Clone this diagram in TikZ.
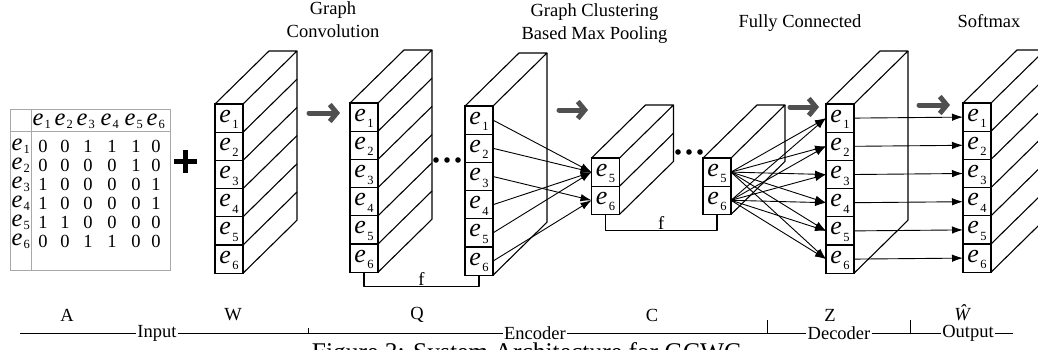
\documentclass[tikz,border=0pt]{standalone}
\usepackage{fontspec}
\setmainfont{Liberation Serif}
\usetikzlibrary{arrows.meta,calc}

\definecolor{flowgray}{HTML}{505050}
\definecolor{gridgray}{HTML}{A8A8A8}

% entity label inside a stack cell
\newcommand{\ev}[1]{{\fontsize{26}{26}\selectfont\itshape e}\hspace{1.5pt}\raisebox{-6.5pt}{\fontsize{12.5}{12.5}\selectfont #1}\hspace{4pt}}
% entity label of the adjacency matrix
\newcommand{\mv}[1]{{\fontsize{24.5}{24.5}\selectfont\itshape e}\hspace{1pt}\raisebox{-3pt}{\fontsize{12.5}{12.5}\selectfont #1}}

% column of entity cells: name, left x, top y, labels
\newcommand{\cellstack}[4]{%
  \foreach \lab [count=\i] in {#4}
    \node[cellbox] (#1-\i) at ({#2+14},{#3+14.1+28.2*(\i-1)}) {\ev{\lab}};
}
% top face, back edge and (optionally) side dividers of a column
\newcommand{\stackfaces}[3]{%
  \draw[face] (#1-1.north west) -- ++(54,-53) -- ($(#1-1.north east)+(54,-53)$) -- (#1-1.north east);
  \draw[face] ($(#1-1.north east)+(54,-53)$) -- ($(#1-#2.south east)+(54,-53)$) -- (#1-#2.south east);
  \ifnum#3=1
    \foreach \k in {2,...,#2} \draw[face] (#1-\k.north east) -- ++(54,-53);
  \fi
}

\begin{document}
\begin{tikzpicture}[x=1pt,y=-1pt,
  every node/.style={font=\fontsize{18.5}{23}\selectfont, inner sep=0pt},
  cellbox/.style={draw, line width=1.1pt, minimum width=28pt, minimum height=28.2pt,
    text height=12pt, text depth=4pt, inner sep=0pt, outer sep=0pt},
  mlabel/.style={anchor=base west, text height=11pt, text depth=3pt},
  face/.style={line width=1.1pt, line join=round},
  link/.style={line width=0.9pt, -{Latex[length=11pt,width=7.5pt]}},
  flow/.style={draw=flowgray, line width=5pt, line cap=round, line join=round,
    -{Straight Barb[length=7pt,width=17pt]}},
  grid/.style={draw=gridgray, line width=1pt},
  axislabel/.style={inner sep=1pt}]
\useasboundingbox (0,0) rectangle (1038,349);
\clip (0,0) rectangle (1038,349);

% ---------- adjacency matrix A ----------
\draw[grid] (10,109) rectangle (170,270);
\draw[grid] (10,131) -- (170,131);
\draw[grid] (31,109) -- (31,270);
\foreach \lab/\x in {1/32.5,2/54.5,3/76.5,4/100.5,5/124.5,6/146.5}
  \node[mlabel] (mh-\lab) at (\x,125) {\mv{\lab}};
\foreach \r/\y/\va/\vb/\vc/\vd/\ve/\vf in {
    1/152/0/0/1/1/1/0, 2/171/0/0/0/0/1/0, 3/190/1/0/0/0/0/1,
    4/209/1/0/0/0/0/1, 5/228/1/1/0/0/0/0, 6/247/0/0/1/1/0/0} {
  \node[mlabel] (mr-\r) at (11.5,\y-1.5) {\mv{\r}};
  \foreach \v/\x [count=\k] in {\va/43,\vb/65,\vc/88,\vd/112,\ve/136,\vf/156}
    \node[anchor=base] (m-\r-\k) at (\x,\y) {\v};
}

% plus sign
\draw[line width=5pt] (174,161.5) -- (197,161.5);
\draw[line width=5pt] (185.5,150) -- (185.5,173);

% ---------- columns ----------
\cellstack{W}{215}{104}{1,...,6}
\stackfaces{W}{6}{1}
\cellstack{Qa}{350}{103}{1,...,6}
\stackfaces{Qa}{6}{1}
\cellstack{Qb}{465}{106}{1,...,6}
\stackfaces{Qb}{6}{0}
\cellstack{Ca}{591.5}{158}{5,6}
\stackfaces{Ca}{2}{1}
\cellstack{Cb}{703}{158}{5,6}
\stackfaces{Cb}{2}{0}
\cellstack{Z}{826}{104}{1,...,6}
\stackfaces{Z}{6}{0}
\cellstack{S}{963}{103}{1,...,6}
\stackfaces{S}{6}{1}

% ellipsis dots
\foreach \x in {436,447,458} \fill (\x,160) circle (2.8pt);
\foreach \x in {678,689,700} \fill (\x,152) circle (2.8pt);

% shared filter brackets
\draw[face] (Qa-6.south) -- ++(0,14) -| (Qb-6.south) node[pos=0.25, above=0.5pt] (fq) {f};
\draw[face] (Ca-2.south) -- ++(0,16) -| (Cb-2.south) node[pos=0.25, above=0.5pt] (fc) {f};

% ---------- pooling, fully connected and output links ----------
\foreach \i in {1,2,4,5} \draw[link] (Qb-\i.east) -- (Ca-1.west);
\foreach \i in {3,6} \draw[link] (Qb-\i.east) -- (Ca-2.west);
\foreach \i in {1,2} \foreach \j in {1,...,6} \draw[link] (Cb-\i.east) -- (Z-\j.west);
\foreach \j in {1,...,6} \draw[link] (Z-\j.east) -- (S-\j.west);

% stage arrows
\coordinate (g1a) at (309,113); \coordinate (g1b) at (340,113);
\coordinate (g2a) at (559,110); \coordinate (g2b) at (588,110);
\coordinate (g3a) at (790,107); \coordinate (g3b) at (819,107);
\coordinate (g4a) at (919,105); \coordinate (g4b) at (950,105);
\draw[flow] (g1a) -- (g1b);
\draw[flow] (g2a) -- (g2b);
\draw[flow] (g3a) -- (g3b);
\draw[flow] (g4a) -- (g4b);

% ---------- stage titles ----------
\node[align=center] (t-conv) at (333,20) {Graph\\Convolution};
\node[align=center] (t-pool) at (594.5,24) {Graph Clustering\\Based Max Pooling};
\node[anchor=base] (t-fc) at (800,27) {Fully Connected};
\node[anchor=base] (t-sm) at (989,27) {Softmax};

% ---------- data names and stage axis ----------
\node (lA) at (67,315) {A};
\node (lW) at (233,315) {W};
\node (lQ) at (417,315) {Q};
\node (lC) at (652,315) {C};
\node (lZ) at (830,315) {Z};
\node (lWh) at (962,313) {\itshape\^{W}};

\coordinate (axL) at (20,333);
\coordinate (axR) at (1013,333);
\node[axislabel] (input) at (157,333) {Input};
\node[axislabel] (encoder) at (535,333) {Encoder};
\node[axislabel] (decoder) at (839,333) {Decoder};
\node[axislabel] (output) at (968,333) {Output};
\draw[line width=0.9pt] (axL) -- (input) -- (encoder) -- (decoder) -- (output) -- (axR);
\draw[line width=0.9pt] (308,333) -- (308,328);
\draw[line width=0.9pt] (767,333) -- (767,320);
\draw[line width=0.9pt] (910,333) -- (910,320);

\node[font=\fontsize{25.5}{28}\selectfont, anchor=base] (caption) at (526.5,360)
  {Figure 3: System Architecture for GCWC};
\end{tikzpicture}
\end{document}
